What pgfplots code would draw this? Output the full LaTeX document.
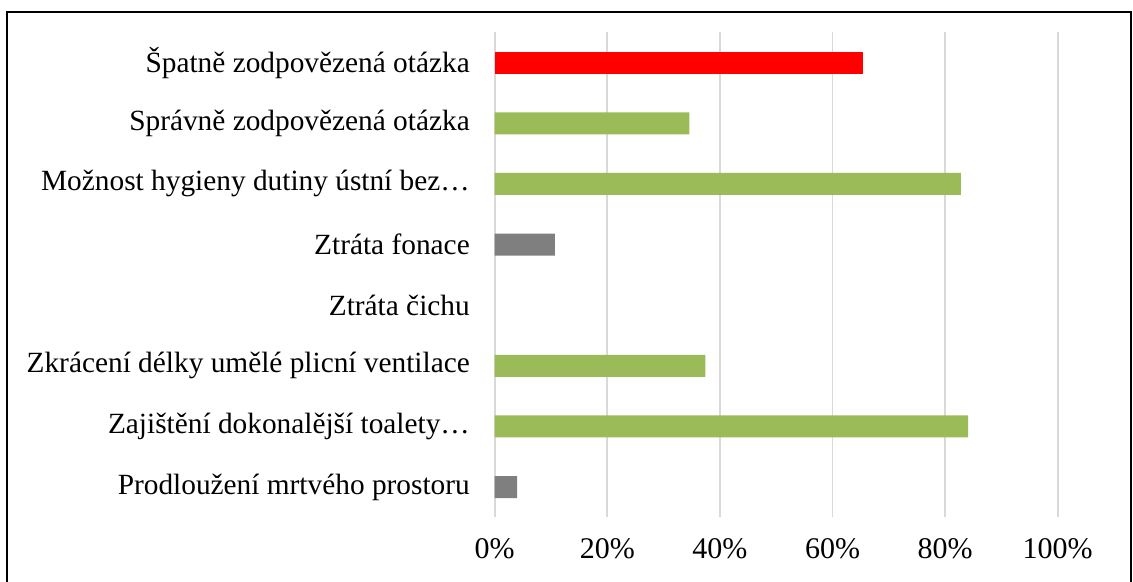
\documentclass[border=0pt]{standalone}
\usepackage{pgfplots}
\pgfplotsset{compat=1.18}
\usepackage{fontspec}
\setmainfont{Liberation Serif}
\definecolor{barred}{HTML}{FF0000}
\definecolor{bargreen}{HTML}{9BBB59}
\definecolor{bargray}{HTML}{7F7F7F}
\definecolor{gridgray}{HTML}{D9D9D9}
\begin{document}
\begin{tikzpicture}
\useasboundingbox (-371pt,-47.8pt) rectangle (478.7pt,388pt);
\draw[black, line width=1pt] (-365.8pt,-60pt) -- (-365.8pt,379pt) -- (477.2pt,379pt) -- (477.2pt,-60pt);
\begin{axis}[
  at={(0,0)}, anchor=south west,
  scale only axis,
  width=422.25pt, height=363.75pt,
  xbar, bar shift=0pt, bar width=16.5pt,
  xmin=0, xmax=100,
  ymin=-0.5, ymax=7.5,
  axis line style={draw=none},
  xtick={0,20,40,60,80,100},
  xticklabels={0\%,20\%,40\%,60\%,80\%,100\%},
  ytick={0,1,2,3,4,5,6,7},
  yticklabels={Prodloužení mrtvého prostoru,Zajištění dokonalější toalety…,Zkrácení délky umělé plicní ventilace,Ztráta čichu,Ztráta fonace,Možnost hygieny dutiny ústní bez…,Správně zodpovězená otázka,Špatně zodpovězená otázka},
  xmajorgrids=true,
  grid style={gridgray, line width=1.3pt},
  major tick length=0pt,
  tick style={draw=none},
  /pgf/number format/assume math mode=true,
  yticklabel style={font=\fontsize{22}{24}\selectfont, anchor=east, inner sep=0pt, xshift=-18.5pt},
  xticklabel style={font=\fontsize{22.5}{24}\selectfont, anchor=north, inner sep=0pt, yshift=-16pt},
  clip=false,
]
\addplot[fill=bargray, draw=none] coordinates {(4.0,0) (10.7,4)};
\addplot[fill=bargreen, draw=none] coordinates {(84.1,1) (37.4,2) (82.8,5) (34.6,6)};
\addplot[fill=barred, draw=none] coordinates {(65.4,7)};
\end{axis}
\end{tikzpicture}
\end{document}
